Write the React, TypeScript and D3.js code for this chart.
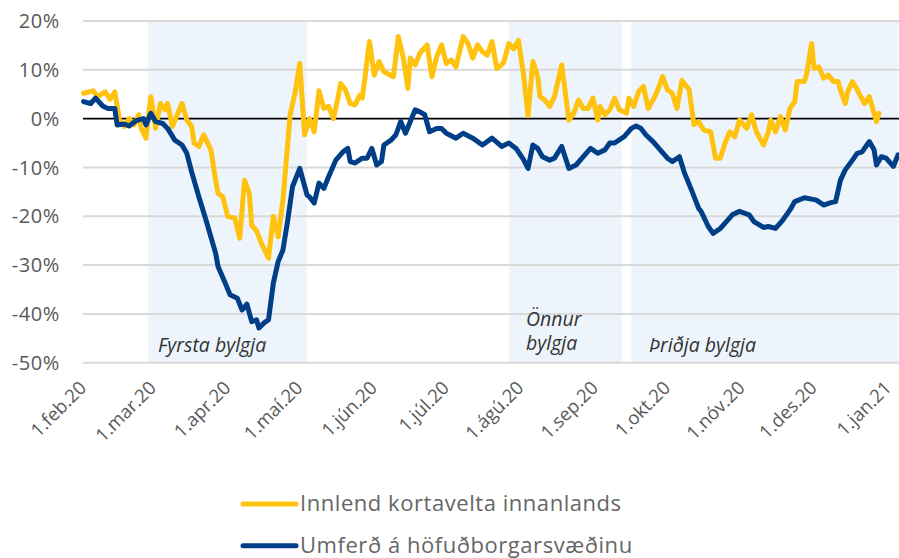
import React from "react";
import * as d3 from "d3";

const W = 899;
const H = 558;

// Day offsets from 1 Feb 2020 and values (%)
const cardDays = [0,4,6,9,11,13,15,17,19,21,23,24,26,28,30,32,34,35,37,39,41,43,45,46,48,50,53,55,56,58,60,63,65,67,69,70,72,74,77,79,81,83,86,88,90,92,94,96,98,100,102,104,106,107,109,111,113,115,116,117,119,121,123,125,129,131,133,135,136,138,140,143,145,147,149,151,153,155,158,160,162,164,166,168,170,172,174,175,177,179,181,183,185,187,189,190,192,194,196,199,202,204,206,208,210,212,214,215,217,219,221,223,226,227,229,231,233,235,237,239,241,243,245,247,249,252,254,256,258,261,263,265,267,269,271,273,276,278,280,283,285,286,288,290,292,294,296,297,300,301,303,304,306,308,310,312,314,315,317,318,320,322,325,327,330,331];
const cardValues = [5.2,5.7,4.5,5.5,4.0,5.5,-0.3,-1.6,0,-1.3,0.8,-2,-4,4.5,-2,3.1,1.8,3.1,-1.6,0.8,3.1,-0.3,-1.6,-5,-5.7,-3.3,-6.4,-12.6,-15.3,-16,-20,-20.4,-24.5,-12.6,-15.3,-21.8,-23,-25.5,-28.6,-20,-24.2,-16.7,0.8,5.2,11.3,-3.3,0,-2.7,5.7,2.1,2.5,0,4.5,7.2,5.9,3.1,2.8,4.8,4.2,7.9,15.8,8.9,11.7,9.6,8.6,16.8,12.7,6.2,12.4,11,13.4,15.1,8.6,12.7,15.1,11.3,12,10.6,16.8,15.4,12.4,15.1,13.7,13,15.8,10.3,11,11.7,15.4,14.3,16,9.5,0.6,11.7,8.6,4.5,3.8,2.5,4.5,11,-0.3,1.1,3.8,2.1,2.1,4.2,-0.3,2.5,0.8,1.8,4.2,1.8,1.1,4.2,2.5,5.5,6.6,2.1,3.8,5.9,8.6,5.9,5.2,2.1,7.8,6,-1.2,-0.6,-2.3,-2.7,-8.1,-8.1,-5,-2.7,-3.7,-0.3,-2,0.8,-2.7,-5.4,-2.7,-0.3,-2.7,0.4,-2.3,2.1,3.5,7.6,7.6,9.3,15.4,10.3,10.6,8.3,8.9,7.6,7.6,5.9,3.1,5.5,7.6,5.9,3.1,4.5,-0.6,1.1];

const trafficDays = [0,3,5,8,10,13,14,17,19,22,25,26,28,30,33,35,38,41,43,45,48,51,55,56,59,61,64,66,68,70,72,73,75,77,79,81,83,85,87,90,93,94,96,98,100,102,105,108,110,111,113,116,118,120,122,124,125,128,130,132,134,136,138,140,142,144,147,149,151,155,158,162,166,170,174,177,180,183,185,187,189,191,194,196,199,202,205,208,211,214,217,219,221,225,228,230,232,234,237,240,243,245,248,250,253,256,257,260,262,265,267,270,273,277,279,283,285,288,291,294,296,300,303,305,308,311,313,315,317,320,322,324,326,327,329,330,332,334,337,339];
const trafficValues = [3.5,3.1,4.2,2.6,2.1,2.1,-1.3,-1.1,-1.5,-0.4,0,-1.3,1.1,-0.6,-1,-2,-4.4,-5.4,-7.1,-10.9,-16,-20.8,-27.6,-30.3,-33.7,-36.1,-36.8,-39.2,-38,-41.6,-41.2,-42.9,-41.9,-41.2,-33.7,-29.3,-26.9,-20.8,-13.9,-10.2,-15.6,-16,-17.3,-13.2,-14.3,-11.9,-8.5,-6.8,-6.1,-8.8,-9.1,-8.1,-8.1,-6.1,-9.5,-8.8,-5.4,-4.4,-3.3,-0.6,-3,-0.6,1.8,1.4,0.8,-2.7,-2,-2,-3,-4,-3,-4,-5.4,-4,-5.7,-5,-6.1,-8.3,-10.2,-5.4,-6.1,-7.8,-8.5,-8.1,-5.7,-10.2,-9.5,-7.8,-6.1,-7.1,-6.4,-5,-5,-3.7,-2,-1.5,-2,-3.3,-4.7,-6.4,-8.1,-8.8,-7.8,-11,-14.6,-18.4,-19,-22.1,-23.5,-22.5,-21.4,-19.7,-19,-19.7,-21.1,-22.3,-22.1,-22.5,-20.8,-18.7,-17,-16.2,-16.5,-16.7,-17.7,-17.2,-17,-12.6,-10.5,-8.5,-7.1,-6.8,-5.4,-4.7,-6.4,-9.5,-7.8,-8.1,-9.8,-7.4];

const tickDates = ["2020-02-01","2020-03-01","2020-04-01","2020-05-01","2020-06-01","2020-07-01","2020-08-01","2020-09-01","2020-10-01","2020-11-01","2020-12-01","2021-01-01"];
const tickLabels = ["1.feb.20","1.mar.20","1.apr.20","1.maí.20","1.jún.20","1.júl.20","1.ágú.20","1.sep.20","1.okt.20","1.nóv.20","1.des.20","1.jan.21"];
const yTicks = [20, 10, 0, -10, -20, -30, -40, -50];

const waveStarts = ["2020-02-28", "2020-07-27", "2020-09-16"];
const waveEnds = ["2020-05-04", "2020-09-12", "2021-01-05"];
const waveLabels = [["Fyrsta bylgja"], ["Önnur", "bylgja"], ["Þriðja bylgja"]];

const seriesNames = ["Innlend kortavelta innanlands", "Umferð á höfuðborgarsvæðinu"];
const seriesColors = ["#FFC20E", "#003F87"];

const parse = (s: string) => {
  const [y, m, d] = s.split("-").map(Number);
  return new Date(y, m - 1, d);
};
const start = new Date(2020, 1, 1);

export default function App() {
  const x = d3.scaleTime().domain([start, new Date(2021, 0, 1)]).range([83.5, 888.5]);
  const y = d3.scaleLinear().domain([-50, 20]).range([362.7, 21]);
  const left = 83;
  const right = 899;
  const line = d3
    .line<[Date, number]>()
    .x((d) => x(d[0]))
    .y((d) => y(d[1]))
    .curve(d3.curveLinear);

  const cardData: [Date, number][] = cardDays.map((dd, i) => [d3.timeDay.offset(start, dd), cardValues[i]]);
  const trafficData: [Date, number][] = trafficDays.map((dd, i) => [d3.timeDay.offset(start, dd), trafficValues[i]]);

  const font = "'Open Sans', 'Noto Sans', sans-serif";

  return (
    <svg width={W} height={H} style={{ position: "absolute", left: 0, top: 0, fontFamily: font }}>
      <rect width={W} height={H} fill="#ffffff" />
      {waveStarts.map((s, i) => {
        const x0 = x(parse(s));
        const x1 = Math.min(right, x(parse(waveEnds[i])));
        return (
          <rect key={"w" + i} x={x0} y={y(20)} width={x1 - x0} height={y(-50) - y(20)} fill="#EEF4FC" />
        );
      })}
      {yTicks.filter((t) => t !== 0).map((t) => (
        <line key={"g" + t} x1={left} x2={right} y1={y(t)} y2={y(t)} stroke="#D9D9D9" strokeWidth={2} />
      ))}
      <line x1={left} x2={right} y1={y(0)} y2={y(0)} stroke="#000000" strokeWidth={1.6} />
      {yTicks.map((t) => (
        <text key={"yl" + t} x={60} y={y(t)} dy="0.36em" textAnchor="end" fontSize={20} letterSpacing={0.6} fill="#595959">
          {t + "%"}
        </text>
      ))}
      {tickDates.map((s, i) => (
        <text
          key={"xl" + i}
          transform={`translate(${x(parse(s)) + 4},${389}) rotate(-45)`}
          textAnchor="end"
          fontSize={18.5}
          fill="#595959"
        >
          {tickLabels[i]}
        </text>
      ))}
      <text x={158} y={352} fontSize={19.5} fontStyle="italic" fill="#333333">{waveLabels[0][0]}</text>
      <text x={526} y={326} fontSize={19.5} fontStyle="italic" fill="#333333">{waveLabels[1][0]}</text>
      <text x={526} y={350} fontSize={19.5} fontStyle="italic" fill="#333333">{waveLabels[1][1]}</text>
      <text x={649} y={352} fontSize={19.5} fontStyle="italic" fill="#333333">{waveLabels[2][0]}</text>
      <path d={line(cardData) || ""} fill="none" stroke={seriesColors[0]} strokeWidth={5} strokeLinejoin="round" strokeLinecap="round" />
      <path d={line(trafficData) || ""} fill="none" stroke={seriesColors[1]} strokeWidth={5} strokeLinejoin="round" strokeLinecap="round" />
      {seriesNames.map((n, i) => (
        <g key={"lg" + i} transform={`translate(0,${504 + i * 41.7})`}>
          <line x1={243} x2={296} y1={0} y2={0} stroke={seriesColors[i]} strokeWidth={5} strokeLinecap="round" />
          <text x={300} y={0} dy="0.32em" fontSize={22} letterSpacing={0.55} fill="#666666">{n}</text>
        </g>
      ))}
    </svg>
  );
}
